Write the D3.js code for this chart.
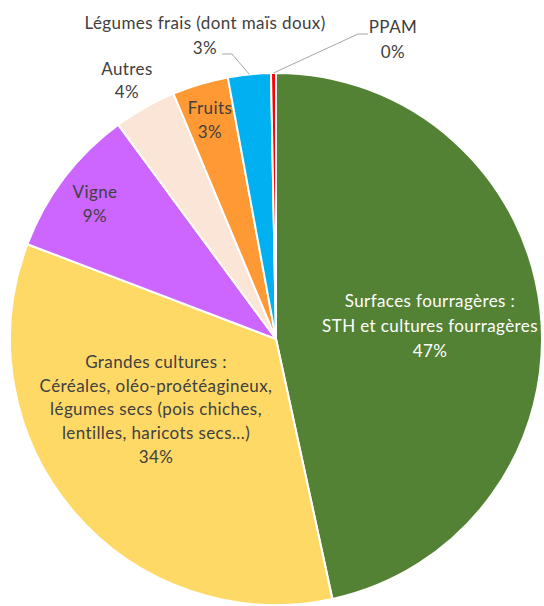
<!DOCTYPE html>
<html>
<head>
<meta charset="utf-8">
<script src="https://cdnjs.cloudflare.com/ajax/libs/d3/7.8.5/d3.min.js"></script>
<style>
  body { margin: 0; background: #fff; }
  text { font-family: Lato, "Open Sans", sans-serif; }
</style>
</head>
<body>
<svg id="chart" width="544" height="606"></svg>
<script>
// slices, clockwise from 12 o'clock
var categories = ["Surfaces fourragères", "Grandes cultures", "Vigne", "Autres", "Fruits", "Légumes frais", "PPAM"];
var values = [46.6, 34.2, 9.1, 3.8, 3.4, 2.6, 0.3];
var colors = ["#548235", "#FFD966", "#CC66FF", "#FBE5D6", "#FF9933", "#00B0F0", "#FF0000"];
var labelLines = [
  ["Surfaces fourragères :", "STH et cultures fourragères"],
  ["Grandes cultures :", "Céréales, oléo-proétéagineux,", "légumes secs (pois chiches,", "lentilles, haricots secs...)"],
  ["Vigne"],
  ["Autres"],
  ["Fruits"],
  ["Légumes frais (dont maïs doux)"],
  ["PPAM"]
];

// label layout: centre x, first baseline, line step, text colour
var labelLayout = [
  { x: 430, y: 307, step: 25, fill: "#ffffff" },
  { x: 156, y: 368, step: 23.7, fill: "#404040" },
  { x: 95, y: 198, step: 24, fill: "#404040" },
  { x: 127, y: 75, step: 23, fill: "#404040" },
  { x: 210, y: 114, step: 24, fill: "#404040" },
  { x: 205, y: 29, step: 25, fill: "#404040" },
  { x: 393, y: 33, step: 25, fill: "#404040" }
];
// leader line elbows for the outside labels (index -> [elbow, end])
var leaders = {
  5: [[232, 54], [222, 54]],
  6: [[358, 34], [368, 34]]
};

var svg = d3.select("#chart");
var cx = 276, cy = 339, radius = 266;

var data = categories.map(function(c, i) {
  return { name: c, value: values[i], color: colors[i], lines: labelLines[i], layout: labelLayout[i] };
});

var pie = d3.pie()
  .sort(null)
  .value(function(d) { return d.value; });

var arc = d3.arc().innerRadius(0).outerRadius(radius);

var g = svg.append("g").attr("transform", "translate(" + cx + "," + cy + ")");

var arcs = pie(data);

g.selectAll("path")
  .data(arcs)
  .enter()
  .append("path")
  .attr("d", arc)
  .attr("fill", function(d) { return d.data.color; })
  .attr("stroke", "#ffffff")
  .attr("stroke-width", 2)
  .attr("stroke-linejoin", "round");

//leader lines, start on the rim at the slice mid angle
arcs.forEach(function(d, i) {
  if (!leaders[i]) return;
  var mid = (d.startAngle + d.endAngle) / 2;
  var start = [cx + radius * Math.sin(mid), cy - radius * Math.cos(mid)];
  var pts = [start].concat(leaders[i]);
  svg.append("path")
    .attr("d", d3.line()(pts))
    .attr("fill", "none")
    .attr("stroke", "#A6A6A6")
    .attr("stroke-width", 1);
});

//labels
var labels = svg.selectAll("text.lbl")
  .data(arcs)
  .enter()
  .append("text")
  .attr("class", "lbl")
  .attr("text-anchor", "middle")
  .attr("font-size", 17)
  .attr("letter-spacing", 0.4)
  .attr("fill", function(d) { return d.data.layout.fill; });

labels.each(function(d) {
  var t = d3.select(this);
  var lay = d.data.layout;
  var lines = d.data.lines.concat([Math.round(d.data.value) + "%"]);
  lines.forEach(function(l, k) {
    t.append("tspan")
      .attr("x", lay.x)
      .attr("y", lay.y + k * lay.step)
      .text(l);
  });
});
</script>
</body>
</html>
